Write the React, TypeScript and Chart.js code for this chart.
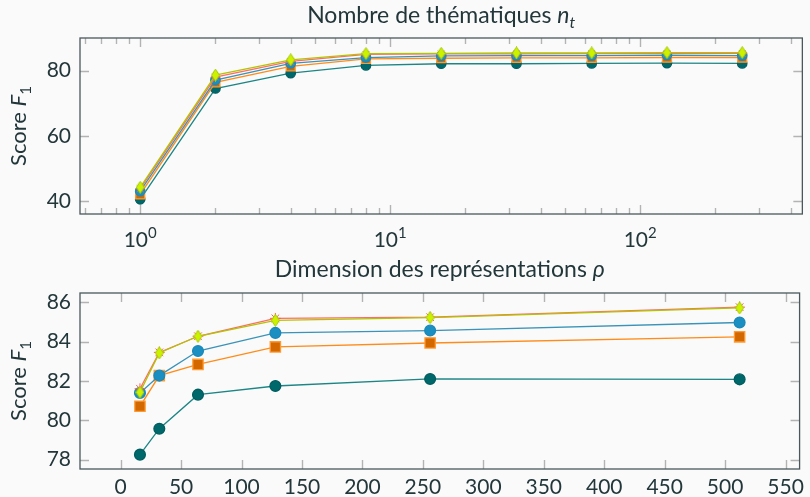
import React, { useEffect, useRef } from 'react';
import { Chart, registerables } from 'chart.js';
Chart.register(...registerables);

// ---------- data ----------
const TOPIC_COUNTS = [1, 2, 4, 8, 16, 32, 64, 128, 256];
const TOP_TEAL = [40.5, 74.5, 79.2, 81.6, 82.1, 82.1, 82.2, 82.3, 82.2];
const TOP_ORANGE = [42.0, 76.4, 81.3, 83.6, 83.8, 83.9, 83.9, 84.0, 84.0];
const TOP_BLUE = [43.0, 77.1, 82.2, 84.0, 84.5, 84.6, 84.6, 84.7, 84.6];
const TOP_RED = [43.8, 78.0, 82.8, 85.0, 85.1, 85.1, 85.2, 85.3, 85.3];
const TOP_LIME = [44.2, 78.6, 83.3, 85.2, 85.3, 85.4, 85.4, 85.5, 85.5];

const DIMENSIONS = [16, 32, 64, 128, 256, 512];
const BOT_TEAL = [78.25, 79.57, 81.3, 81.74, 82.1, 82.08];
const BOT_ORANGE = [80.71, 82.27, 82.84, 83.73, 83.93, 84.24];
const BOT_BLUE = [81.39, 82.27, 83.52, 84.44, 84.56, 84.97];
const BOT_RED = [81.6, 83.45, 84.27, 85.18, 85.24, 85.75];
const BOT_LIME = [81.42, 83.42, 84.27, 85.08, 85.22, 85.71];

const TOP_Y_TICKS = [40, 60, 80];
const BOT_Y_TICKS = [78, 80, 82, 84, 86];
const BOT_X_TICKS = [0, 50, 100, 150, 200, 250, 300, 350, 400, 450, 500, 550];
const LOG_MAJOR = [1, 10, 100];
const LOG_MINOR = [0.6, 0.7, 0.8, 0.9, 2, 3, 4, 5, 6, 7, 8, 9, 20, 30, 40, 50, 60, 70, 80, 90, 200, 300, 400];

const TOP_TITLE = [{ t: 'Nombre de thématiques ' }, { t: 'n', i: true }, { t: 't', i: true, sub: true }];
const BOT_TITLE = [{ t: 'Dimension des représentations ' }, { t: 'ρ', i: true }];
const Y_TITLE = [{ t: 'Score ' }, { t: 'F', i: true }, { t: '1', sub: true }];

// ---------- style ----------
const FONT = 'Lato, "Open Sans", sans-serif';
const TEXT = '#23373b';
const BG = '#fafafa';
const FRAME = '#4a585b';
const TICK = '#b3b3b3';

function diamond(w: number, h: number, fill: string, stroke: string) {
  const c = document.createElement('canvas');
  c.width = w; c.height = h;
  const g = c.getContext('2d')!;
  g.beginPath();
  g.moveTo(w / 2, 0.5); g.lineTo(w - 0.5, h / 2); g.lineTo(w / 2, h - 0.5); g.lineTo(0.5, h / 2); g.closePath();
  g.fillStyle = fill; g.fill();
  g.strokeStyle = stroke; g.lineWidth = 1; g.stroke();
  return c;
}

function makeDatasets(xs: number[], series: number[][], r: number) {
  const [teal, orange, blue, red, lime] = series;
  const pts = (v: number[]) => v.map((y, k) => ({ x: xs[k], y }));
  const dia = diamond(9, 13, '#ccf200', '#a3c800');
  return [
    { data: pts(teal), borderColor: '#1c8585', backgroundColor: '#00686a', pointBorderColor: '#005e60', pointStyle: 'circle', pointRadius: r, borderWidth: 1.3, order: 5 },
    { data: pts(orange), borderColor: '#ff8c1a', backgroundColor: '#d46800', pointBorderColor: '#ff9a30', pointStyle: 'rect', pointRadius: r * 1.35, pointBorderWidth: 1.3, borderWidth: 1.4, order: 4 },
    { data: pts(blue), borderColor: '#3a93b8', backgroundColor: '#1b8fc2', pointBorderColor: '#1a89ba', pointStyle: 'circle', pointRadius: r, borderWidth: 1.3, order: 3 },
    { data: pts(red), borderColor: '#ff6b6b', backgroundColor: '#ff6b6b', pointBorderColor: '#ff5a5a', pointStyle: 'star', pointRadius: r, pointBorderWidth: 1, borderWidth: 1.3, order: 2 },
    { data: pts(lime), borderColor: '#b2c400', backgroundColor: '#ccf200', pointStyle: dia, pointRadius: r, borderWidth: 1.3, order: 1 },
  ].map((d: any) => ({ ...d, fill: false, tension: 0, pointHoverRadius: d.pointRadius }));
}

function drawRuns(ctx: CanvasRenderingContext2D, runs: any[], size: number, cx: number, baseline: number) {
  const fontFor = (r: any) => `${r.i ? 'italic ' : ''}${r.sub ? Math.round(size * 0.7) : size}px ${FONT}`;
  let total = 0;
  const widths = runs.map((r) => { ctx.font = fontFor(r); const w = ctx.measureText(r.t).width; total += w; return w; });
  let x = cx - total / 2;
  ctx.textAlign = 'left';
  ctx.textBaseline = 'alphabetic';
  runs.forEach((r, k) => {
    ctx.font = fontFor(r);
    ctx.fillText(r.t, x, baseline + (r.sub ? size * 0.22 : 0));
    x += widths[k];
  });
}

const decorPlugin = {
  id: 'decor',
  beforeDatasetsDraw(chart: any, _a: any, opts: any) {
    const { ctx, chartArea: a, scales } = chart;
    ctx.save();
    ctx.strokeStyle = TICK;
    ctx.lineWidth = 1.4;
    const minor: number[] = opts.minor || [];
    const xs = scales.x, ys = scales.y;
    ctx.beginPath();
    for (const t of xs.ticks) {
      const px = Math.round(xs.getPixelForValue(t.value)) + 0.5;
      const len = minor.includes(t.value) ? 6 : 9;
      ctx.moveTo(px, a.bottom); ctx.lineTo(px, a.bottom - len);
      ctx.moveTo(px, a.top); ctx.lineTo(px, a.top + len);
    }
    for (const t of ys.ticks) {
      const py = Math.round(ys.getPixelForValue(t.value)) + 0.5;
      ctx.moveTo(a.left, py); ctx.lineTo(a.left + 9, py);
      ctx.moveTo(a.right, py); ctx.lineTo(a.right - 9, py);
    }
    ctx.stroke();
    ctx.strokeStyle = FRAME;
    ctx.lineWidth = 1.3;
    ctx.strokeRect(a.left, a.top, a.right - a.left, a.bottom - a.top);
    ctx.restore();
  },
  afterDraw(chart: any, _a: any, opts: any) {
    const { ctx, chartArea: a, scales } = chart;
    ctx.save();
    ctx.fillStyle = TEXT;
    drawRuns(ctx, opts.title, 23, (a.left + a.right) / 2, a.top - opts.titleGap);
    ctx.save();
    ctx.translate(26, (a.top + a.bottom) / 2);
    ctx.rotate(-Math.PI / 2);
    drawRuns(ctx, Y_TITLE, 22, 0, 0);
    ctx.restore();
    if (opts.logLabels) {
      for (const v of LOG_MAJOR) {
        const px = scales.x.getPixelForValue(v);
        const exp = String(Math.round(Math.log10(v)));
        ctx.font = `21px ${FONT}`;
        const w1 = ctx.measureText('10').width;
        ctx.font = `15px ${FONT}`;
        const w2 = ctx.measureText(exp).width;
        const x0 = px - (w1 + w2) / 2;
        ctx.textAlign = 'left';
        ctx.textBaseline = 'alphabetic';
        ctx.font = `21px ${FONT}`;
        ctx.fillText('10', x0, a.bottom + 33);
        ctx.font = `15px ${FONT}`;
        ctx.fillText(exp, x0 + w1, a.bottom + 24);
      }
    }
    ctx.restore();
  },
};

function useChart(ref: React.RefObject<HTMLCanvasElement>, cfg: () => any) {
  useEffect(() => {
    const chart = new Chart(ref.current!, cfg());
    return () => chart.destroy();
  }, []);
}

function baseOptions(extra: any) {
  return {
    responsive: false,
    animation: false,
    events: [],
    plugins: { legend: { display: false }, title: { display: false }, tooltip: { enabled: false } },
    ...extra,
  };
}

export default function App() {
  const topRef = useRef<HTMLCanvasElement>(null);
  const botRef = useRef<HTMLCanvasElement>(null);

  useEffect(() => {
    document.body.style.margin = '0';
    document.body.style.background = BG;
  }, []);

  useChart(topRef, () => ({
    type: 'line',
    data: { datasets: makeDatasets(TOPIC_COUNTS, [TOP_TEAL, TOP_ORANGE, TOP_BLUE, TOP_RED, TOP_LIME], 4.7) },
    options: baseOptions({
      layout: { padding: { left: 0, right: 6, top: 38, bottom: 0 } },
      scales: {
        x: {
          type: 'logarithmic',
          min: Math.pow(10, -0.2408),
          max: Math.pow(10, 2.6488),
          grid: { display: false, drawTicks: false },
          border: { display: false },
          ticks: { callback: () => '', autoSkip: false },
          afterBuildTicks: (s: any) => { s.ticks = [...LOG_MAJOR, ...LOG_MINOR].map((v) => ({ value: v, major: LOG_MAJOR.includes(v) })); },
          afterFit: (s: any) => { s.height = 34; },
        },
        y: {
          min: 36, max: 90,
          grid: { display: false, drawTicks: false },
          border: { display: false },
          ticks: { color: TEXT, font: { family: FONT, size: 21 }, padding: 9 },
          afterBuildTicks: (s: any) => { s.ticks = TOP_Y_TICKS.map((v) => ({ value: v })); },
          afterFit: (s: any) => { s.width = 80; },
        },
      },
      plugins: {
        legend: { display: false }, title: { display: false }, tooltip: { enabled: false },
        decor: { title: TOP_TITLE, titleGap: 15, minor: LOG_MINOR, logLabels: true },
      },
    }),
    plugins: [decorPlugin],
  }));

  useChart(botRef, () => ({
    type: 'line',
    data: { datasets: makeDatasets(DIMENSIONS, [BOT_TEAL, BOT_ORANGE, BOT_BLUE, BOT_RED, BOT_LIME], 5.4) },
    options: baseOptions({
      layout: { padding: { left: 0, right: 6, top: 45, bottom: 0 } },
      scales: {
        x: {
          type: 'linear',
          min: -33.6, max: 561.6,
          grid: { display: false, drawTicks: false },
          border: { display: false },
          ticks: { color: TEXT, font: { family: FONT, size: 21 }, padding: 6, autoSkip: false, maxRotation: 0 },
          afterBuildTicks: (s: any) => { s.ticks = BOT_X_TICKS.map((v) => ({ value: v })); },
          afterFit: (s: any) => { s.height = 28; },
        },
        y: {
          min: 77.52, max: 86.47,
          grid: { display: false, drawTicks: false },
          border: { display: false },
          ticks: { color: TEXT, font: { family: FONT, size: 21 }, padding: 9 },
          afterBuildTicks: (s: any) => { s.ticks = BOT_Y_TICKS.map((v) => ({ value: v })); },
          afterFit: (s: any) => { s.width = 80; },
        },
      },
      plugins: {
        legend: { display: false }, title: { display: false }, tooltip: { enabled: false },
        decor: { title: BOT_TITLE, titleGap: 16, minor: [] },
      },
    }),
    plugins: [decorPlugin],
  }));

  return (
    <div style={{ position: 'fixed', left: 0, top: 0, width: 810, height: 497, background: BG }}>
      <canvas ref={topRef} width={810} height={248} style={{ position: 'absolute', left: 0, top: 0 }} />
      <canvas ref={botRef} width={810} height={249} style={{ position: 'absolute', left: 0, top: 248 }} />
    </div>
  );
}
